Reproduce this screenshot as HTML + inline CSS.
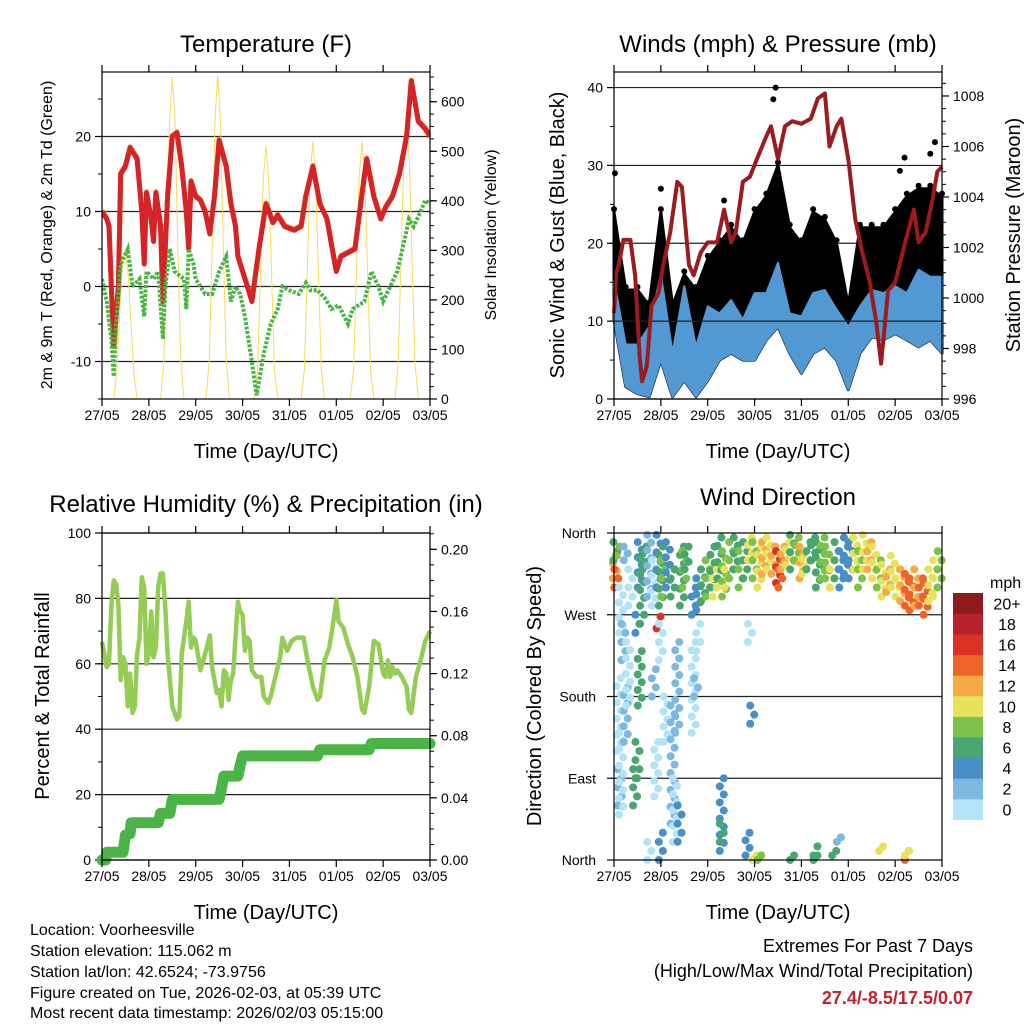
<!DOCTYPE html>
<html><head><meta charset="utf-8">
<style>
html,body{margin:0;padding:0;background:#fff;}
svg{display:block;font-family:"Liberation Sans",sans-serif;}
</style></head>
<body>
<svg id="chart" width="1024" height="1024" viewBox="0 0 1024 1024" xmlns="http://www.w3.org/2000/svg">
<rect width="1024" height="1024" fill="#fff"/>
<g id="layer"></g>
<text x="266" y="52" font-size="24" text-anchor="middle">Temperature (F)</text>
<text x="778" y="52" font-size="24" text-anchor="middle">Winds (mph) &amp; Pressure (mb)</text>
<text x="266" y="512" font-size="24" text-anchor="middle">Relative Humidity (%) &amp; Precipitation (in)</text>
<text x="778" y="505" font-size="24" text-anchor="middle">Wind Direction</text>
<text transform="translate(52,235) rotate(-90)" font-size="16" text-anchor="middle">2m &amp; 9m T (Red, Orange) &amp; 2m Td (Green)</text>
<text transform="translate(496,235) rotate(-90)" font-size="16" text-anchor="middle">Solar Insolation (Yellow)</text>
<text transform="translate(564,235) rotate(-90)" font-size="20" text-anchor="middle">Sonic Wind &amp; Gust (Blue, Black)</text>
<text transform="translate(1020,235) rotate(-90)" font-size="20" text-anchor="middle">Station Pressure (Maroon)</text>
<text transform="translate(49,696) rotate(-90)" font-size="20" text-anchor="middle">Percent &amp; Total Rainfall</text>
<text transform="translate(541,696) rotate(-90)" font-size="20" text-anchor="middle">Direction (Colored By Speed)</text>
<text x="266" y="458" font-size="20" text-anchor="middle">Time (Day/UTC)</text>
<text x="778" y="458" font-size="20" text-anchor="middle">Time (Day/UTC)</text>
<text x="266" y="919" font-size="20" text-anchor="middle">Time (Day/UTC)</text>
<text x="778" y="919" font-size="20" text-anchor="middle">Time (Day/UTC)</text>
<g font-size="16">
<text x="30" y="935">Location: Voorheesville</text>
<text x="30" y="956">Station elevation: 115.062 m</text>
<text x="30" y="977">Station lat/lon: 42.6524; -73.9756</text>
<text x="30" y="998">Figure created on Tue, 2026-02-03, at 05:39 UTC</text>
<text x="30" y="1018">Most recent data timestamp: 2026/02/03 05:15:00</text>
</g>
<g font-size="18" text-anchor="end">
<text x="973" y="952">Extremes For Past 7 Days</text>
<text x="973" y="977">(High/Low/Max Wind/Total Precipitation)</text>
<text x="973" y="1004" fill="#c8202a" font-weight="bold">27.4/-8.5/17.5/0.07</text>
</g>
<text x="990" y="588" font-size="16">mph</text>
</svg>
<script>
// ---------- DATA ----------
const dayLabels = ["27/05","28/05","29/05","30/05","31/05","01/05","02/05","03/05"];
// Temperature (F)
const tempT = [0,0.1,0.15,0.25,0.35,0.4,0.5,0.6,0.75,0.85,0.9,0.95,1.05,1.1,1.15,1.25,1.3,1.4,1.5,1.6,1.7,1.8,1.85,1.9,2.0,2.1,2.2,2.3,2.4,2.5,2.65,2.75,2.85,2.9,3.0,3.1,3.2,3.35,3.5,3.65,3.75,3.9,4.1,4.25,4.35,4.5,4.65,4.8,4.9,5.0,5.1,5.25,5.4,5.5,5.65,5.8,5.95,6.05,6.2,6.35,6.5,6.6,6.75,6.9,7.0];
const tempRed = [10,9,8,-8,0,15,16,18.5,17,10,3,12.5,9,6,12.5,8,-2,12,20,20.5,16,10,5,14,12,11.5,10,7,12,19.5,16,11,8,4,2,0,-2,5,11,8.5,9.5,8,7.5,8,12,16,11,9,5.5,2,4,4.5,5,10,17,12,9,10.5,12,15,20,27.4,22,21,20];
const dewT = [0,0.1,0.2,0.25,0.3,0.4,0.55,0.65,0.8,0.9,0.95,1.1,1.2,1.3,1.35,1.45,1.55,1.75,1.8,1.85,1.95,2.0,2.2,2.35,2.5,2.65,2.75,2.85,2.95,3.05,3.2,3.3,3.45,3.6,3.75,3.85,4.0,4.2,4.35,4.45,4.6,4.75,4.9,5.05,5.25,5.35,5.6,5.75,5.9,6.0,6.15,6.3,6.45,6.55,6.65,6.8,6.9,7.0];
const dewVals = [1,-2,-7,-12,-5,3,5,0,1,-4,2,1,2,-7,0,5,2,1,-3,5,3,1,-1,-1,2,4,-2,0,-1,-4,-10,-14.5,-9,-5,-3,0,-0.5,-1,0.5,-0.5,-0.5,-1.5,-3,-2.5,-5,-3,-2,2,0,-2,0,2,6,9,8,10,11.5,11];
const solarT = [0.25,0.32,0.38,0.44,0.5,0.56,0.62,0.68,0.75, 1.25,1.32,1.38,1.44,1.5,1.56,1.62,1.68,1.75, 2.22,2.29,2.35,2.41,2.47,2.53,2.59,2.65,2.72, 3.25,3.32,3.38,3.44,3.5,3.56,3.62,3.68,3.75, 4.25,4.32,4.38,4.44,4.5,4.56,4.62,4.68,4.75, 5.3,5.37,5.43,5.49,5.55,5.61,5.67,5.73,5.8, 6.25,6.32,6.38,6.44,6.5,6.56,6.62,6.68,6.75];
const solarVals = [0,60,180,280,300,250,150,50,0, 0,80,300,560,650,560,300,80,0, 0,80,300,560,655,560,300,80,0, 0,60,250,440,510,440,250,60,0, 0,60,250,450,520,450,250,60,0, 0,60,250,450,520,450,250,60,0, 0,70,270,480,550,480,270,70,0];
// Winds (mph) & pressure (mb)
const windT = [0,0.25,0.5,0.75,1,1.25,1.5,1.75,2,2.25,2.5,2.75,3,3.25,3.5,3.75,4,4.25,4.5,4.75,5,5.25,5.5,5.75,6,6.25,6.5,6.75,7];
const windHi = [15.3,7,7,9.3,16,5.9,14.5,6.7,11.9,11,12.7,10.2,13.6,13.6,17.5,11,10.6,13.6,14,11.5,9.3,11.9,14,13.6,14.5,13.6,16.6,15.7,15.7];
const windLo = [10.2,1.6,0.7,0.3,5,0.3,2.4,0.3,2.4,5,5.9,5,5,7.6,9.3,5.9,3.3,5.9,6.7,5,1.2,5.9,8,7.6,8.4,7.6,6.7,7.6,5.9];
const gustHi = [24,14,14,12,24,12,16,14,18,20,22,20,24,26,30,22,20,24,23,20,12,22,22,22,24,26,27,27,26];
const gustOutT = [0.02,3.4,3.45,6.1,6.2,6.75,6.85,1.0,2.35];
const gustOutV = [29,38.5,40,29.3,31,31.5,33,27,25.5];
const presT = [0,0.05,0.1,0.2,0.35,0.45,0.55,0.6,0.7,0.8,0.95,1.05,1.2,1.35,1.45,1.6,1.7,1.85,2.0,2.2,2.35,2.5,2.6,2.75,2.9,3.05,3.25,3.35,3.5,3.65,3.8,4.0,4.2,4.35,4.5,4.6,4.75,4.85,5.0,5.15,5.3,5.45,5.6,5.7,5.85,6.0,6.2,6.4,6.5,6.65,6.8,6.9,7.0];
const presVals = [999.4,1001.0,1001.3,1002.3,1002.3,1000.9,997.6,996.7,997.3,999.7,1000.2,1001.3,1002.6,1004.6,1004.4,1001.3,1000.9,1001.8,1002.2,1002.2,1003.5,1002.2,1002.6,1004.6,1004.8,1005.5,1006.4,1006.8,1005.5,1006.8,1007.0,1006.9,1007.1,1007.9,1008.1,1006.0,1006.8,1007.1,1005.5,1003.1,1001.8,1000.7,999.0,997.4,1000.3,1000.6,1002.1,1003.5,1002.2,1002.6,1003.9,1005.0,1005.2];
// Relative humidity (%)
const rhT = [0,0.05,0.1,0.15,0.2,0.25,0.3,0.35,0.4,0.45,0.5,0.55,0.6,0.65,0.7,0.75,0.8,0.85,0.9,0.95,1.0,1.05,1.1,1.15,1.2,1.25,1.3,1.35,1.4,1.5,1.55,1.6,1.65,1.7,1.8,1.85,1.9,1.95,2.0,2.1,2.2,2.3,2.35,2.45,2.5,2.55,2.6,2.65,2.7,2.75,2.8,2.85,2.9,2.95,3.0,3.05,3.1,3.15,3.2,3.3,3.4,3.45,3.55,3.6,3.7,3.8,3.85,3.95,4.05,4.15,4.3,4.4,4.5,4.6,4.65,4.75,4.85,4.95,5.0,5.05,5.15,5.25,5.35,5.45,5.55,5.6,5.7,5.8,5.9,6.0,6.05,6.1,6.15,6.2,6.25,6.3,6.4,6.5,6.55,6.6,6.7,6.8,6.9,7.0];
const rhVals = [66.7,63,59,60,78,85.5,84.5,78,55,62,60,47,57,45,47,63,68,86.5,83.5,60,63,76,62,65,83.5,87.6,87.6,77,63,47,45,43,44,63,73,79,65,68,67,58,63,68.7,59,51,52,47,58,57,49,55,57,68,79,76,75,64,68,67,58,56,56,50,48,50,56,62,68,64,67,68,68,60,53,49,50,61,65,74,79.5,73,71,66,62,56,46,45,53,67,66,57,56,61,56,59,57,58,56,53,46,45,56,61,67,70];
// Precipitation (in, cumulative)
const rainT = [0,0.08,0.1,0.45,0.5,0.6,0.62,1.2,1.25,1.45,1.5,2.5,2.55,2.6,2.9,2.95,3.0,4.6,4.65,5.7,5.75,7.0];
const rainVals = [0,0,0.005,0.005,0.016,0.017,0.024,0.024,0.03,0.03,0.039,0.039,0.046,0.054,0.054,0.061,0.067,0.067,0.071,0.071,0.075,0.075];
// Wind direction observations: [day, dirMin, dirMax, speed]
const dirObs = [
[0.02,310,335,13],[0.03,330,350,7],[0.05,300,320,15],[0.08,335,345,8],[0.15,250,300,1],[0.25,330,345,3],[0.35,280,320,1],[0.55,300,350,5],[0.6,280,340,7],[0.65,320,345,6],[0.75,290,358,3],[0.85,280,330,1],[0.95,300,358,4],[1.0,280,345,6],[1.05,290,330,9],[1.15,300,350,5],[1.25,290,320,7],[1.45,280,345,7],[1.5,300,340,9],[1.55,320,345,7],[1.7,270,300,4],[1.8,275,310,5],[1.9,285,320,7],[2.0,290,330,8],[2.1,300,345,6],[2.15,290,320,10],[2.25,310,355,6],[2.35,290,340,9],[2.4,300,330,11],[2.5,310,350,8],[2.6,320,355,7],[2.7,300,340,9],[2.8,310,350,6],[2.9,330,355,10],[3.0,310,350,9],[3.1,300,345,11],[3.2,315,350,12],[3.3,320,355,10],[3.4,315,345,13],[3.5,305,340,17],[3.55,300,330,15],[3.6,320,345,12],[3.7,325,350,10],[3.8,320,358,7],[3.9,330,355,8],[4.0,310,345,12],[4.05,315,340,10],[4.15,320,350,7],[4.25,330,355,6],[4.35,300,350,7],[4.45,310,355,8],[4.55,310,345,8],[4.65,300,330,10],[4.75,310,350,7],[4.85,300,340,4],[4.95,315,355,4],[5.05,310,350,5],[5.15,320,355,11],[5.25,300,340,8],[5.35,320,358,10],[5.45,320,350,12],[5.55,310,345,11],[5.65,300,330,9],[5.75,290,325,11],[5.85,295,320,13],[5.95,300,335,11],[6.05,290,320,10],[6.15,285,320,13],[6.25,280,315,14],[6.35,275,310,15],[6.45,280,320,12],[6.55,280,310,14],[6.65,270,305,15],[6.75,285,320,11],[6.85,290,330,10],[6.95,300,340,9],
[0.1,120,200,1],[0.12,60,100,3],[0.15,50,140,1],[0.2,220,260,2],[0.25,130,190,2],[0.3,170,240,1],[0.45,60,100,6],[0.5,90,130,7],[0.55,170,230,7],[0.5,250,270,4],[0.6,260,270,6],[0.75,0,20,1],[0.85,180,210,2],[0.9,70,130,1],[0.95,255,268,16],[1.0,0,30,4],[1.0,220,260,1],[1.1,130,180,1],[1.25,40,170,2],[1.3,20,90,1],[1.35,140,240,3],[1.4,20,60,4],[1.7,140,240,1],[1.75,180,200,2],[1.8,230,260,1],[2.3,10,90,4],[2.3,20,40,6],[2.85,5,30,5],[2.9,240,260,1],[2.95,150,170,4],[3.0,0,5,10],[3.1,0,5,8],[3.8,0,5,6],[4.3,5,15,6],[4.3,0,5,6],[4.7,5,10,6],[4.8,20,25,2],[5.7,10,15,10],[6.25,0,10,15],[6.25,5,10,10]
];
const speedLevels = ["0","2","4","6","8","10","12","14","16","18","20+"];
const speedColors = ["#b3e3f7","#7db8e2","#4a8ec6","#49a671","#7cc24a","#e6e25a","#f6a947","#ef6329","#da3227","#b8212a","#8e1a1c"];

// ---------- DRAWING ----------
const NS="http://www.w3.org/2000/svg";
const layer=document.getElementById('layer');
function el(tag,attrs,parent){const e=document.createElementNS(NS,tag);for(const k in attrs)e.setAttribute(k,attrs[k]);(parent||layer).appendChild(e);return e;}
function ln(x1,y1,x2,y2,c,w,p){return el('line',{x1,y1,x2,y2,stroke:c||'#000','stroke-width':w||1},p);}
function tx(x,y,s,anchor,p,size){const t=el('text',{x,y,'font-size':size||14,'text-anchor':anchor||'middle'},p);t.textContent=s;return t;}

function panel(name,x0,x1,y0,y1){
  const g=el('g',{});
  
  
  const sx=d=>x0+(x1-x0)*d/7;
  return {g,x0,x1,y0,y1,sx};
}
function frame(P){
  el('rect',{x:P.x0,y:P.y0,width:P.x1-P.x0,height:P.y1-P.y0,fill:'none',stroke:'#000','stroke-width':1.2},P.g);
  const xa=el('g',{},P.g);
  
  
  for(let i=0;i<8;i++){const x=P.sx(i);ln(x,P.y1,x,P.y1+7,'#000',1.2,xa);ln(x,P.y0,x,P.y0-7,'#000',1.2,xa);
    const t=tx(x,P.y1+21,dayLabels[i],'middle',xa,14);
    
    }
}
function yTicks(P,lo,hi,major,minor,fmt,side,grid,labels){
  const sy=v=>P.y1-(v-lo)/(hi-lo)*(P.y1-P.y0);
  const ga=el('g',{},P.g);
  
  
  const xe=side==='left'?P.x0:P.x1, dir=side==='left'?-1:1;
  for(let v=lo;v<=hi+1e-9;v+=minor){const y=sy(v);if(y<P.y0-0.5)continue;ln(xe,y,xe+dir*4,y,'#000',1,ga);}
  for(let i=0;i<labels.length;i++){const v=labels[i];const y=sy(v);
    ln(xe,y,xe+dir*7,y,'#000',1.2,ga);
    if(grid)ln(P.x0,y,P.x1,y,'#222',1.2,P.g);
    const t=tx(xe+dir*11,y+5,fmt(v),side==='left'?'end':'start',ga,14);
    
    }
  return sy;
}
function pathFrom(xs,ys,sx,sy){return xs.map((t,i)=>(i?'L':'M')+sx(t).toFixed(1)+','+sy(ys[i]).toFixed(1)).join('');}

// Temperature panel
{
const P=panel('temperature-panel',102,430,72,399);
const sy=yTicks(P,-15,28.6,10,5,v=>String(v),'left',true,[-10,0,10,20]);
const syS=yTicks(P,0,660,100,25,v=>String(v),'right',false,[0,100,200,300,400,500,600]);
el('clipPath',{id:'ct'},P.g).appendChild(el('rect',{x:102,y:72,width:328,height:327},P.g));
const cg=el('g',{'clip-path':'url(#ct)'},P.g);
const s=el('path',{d:pathFrom(solarT,solarVals,P.sx,syS),fill:'none',stroke:'#f7dc5a','stroke-width':1},cg);


const o=el('path',{d:pathFrom(tempT,tempRed,P.sx,v=>sy(v)-1),fill:'none',stroke:'#f58a3a','stroke-width':5,'stroke-linejoin':'round'},cg);


const r=el('path',{d:pathFrom(tempT,tempRed,P.sx,sy),fill:'none',stroke:'#d42428','stroke-width':5,'stroke-linejoin':'round'},cg);


const g=el('path',{d:pathFrom(dewT,dewVals,P.sx,sy),fill:'none',stroke:'#4cb447','stroke-width':4,'stroke-dasharray':'3 1.5'},cg);


frame(P);
}
// Winds panel
{
const P=panel('winds-panel',614,942,72,399);
const sy=yTicks(P,0,42,10,5,v=>String(v),'left',true,[0,10,20,30,40]);
const syP=yTicks(P,996,1008.95,2,0.5,v=>String(v),'right',false,[996,998,1000,1002,1004,1006,1008]);
const cg=el('g',{},P.g);
let dG=windT.map((t,i)=>(i?'L':'M')+P.sx(t)+','+sy(gustHi[i])).join('')+windT.map((t,i)=>[t,i]).reverse().map(([t,i])=>'L'+P.sx(t)+','+sy(windLo[i])).join('')+'Z';
const gb=el('path',{d:dG,fill:'#000',stroke:'#000','stroke-width':3,'stroke-linejoin':'round'},cg);


windT.forEach((t,i)=>{const c=el('circle',{cx:P.sx(t),cy:sy(gustHi[i])-3,r:3,fill:'#000'},cg);

});
gustOutT.forEach((t,i)=>{const c=el('circle',{cx:P.sx(t),cy:sy(gustOutV[i]),r:3,fill:'#000'},cg);

});
let dW=windT.map((t,i)=>(i?'L':'M')+P.sx(t)+','+sy(windHi[i])).join('')+windT.map((t,i)=>[t,i]).reverse().map(([t,i])=>'L'+P.sx(t)+','+sy(windLo[i])).join('')+'Z';
const wb=el('path',{d:dW,fill:'#5298d2',stroke:'#5298d2','stroke-width':2,'stroke-linejoin':'round'},cg);


ln(614,sy(10),942,sy(10),'#222',1.2,P.g);
const pl=el('path',{d:pathFrom(presT,presVals,P.sx,syP),fill:'none',stroke:'#9b1b1e','stroke-width':4,'stroke-linejoin':'round'},P.g);


frame(P);
}
// RH panel
{
const P=panel('humidity-panel',102,430,533,860);
const sy=yTicks(P,0,100,20,10,v=>String(v),'left',true,[0,20,40,60,80,100]);
const syR=yTicks(P,0,0.2105,0.04,0.01,v=>v.toFixed(2),'right',false,[0,0.04,0.08,0.12,0.16,0.2]);
const rl=el('path',{d:pathFrom(rainT,rainVals,P.sx,syR),fill:'none',stroke:'#4bb446','stroke-width':11,'stroke-linecap':'round','stroke-linejoin':'round'},P.g);


const hl=el('path',{d:pathFrom(rhT,rhVals,P.sx,sy),fill:'none',stroke:'#95cc55','stroke-width':4.5,'stroke-linejoin':'round'},P.g);


frame(P);
}
// Wind direction panel
{
const P=panel('wind-direction-panel',614,942,533,860);
const sy=v=>P.y1-v/360*(P.y1-P.y0);
const ga=el('g',{},P.g);


const dirNames=["North","East","South","West","North"];
dirNames.forEach((n,i)=>{const y=sy(i*90);ln(P.x0-7,y,P.x0,y,'#000',1.2,ga);
  if(i>0&&i<4)ln(P.x0,y,P.x1,y,'#222',1.2,P.g);
  const t=tx(P.x0-18,y+5,n,'end',ga,14);
  
  });
const dg=el('g',{},P.g);


dirObs.forEach(o=>{const [t,a,b,s]=o;const ci=Math.min(10,Math.floor(s/2));
  const n=Math.max(1,Math.round((b-a)/9));
  for(let k=0;k<=n;k++){
    const d=a+(b-a)*k/n;
    const c=el('circle',{cx:P.sx(t)+(k%2?2:-2),cy:sy(d),r:4,fill:speedColors[ci]},dg);
    
    
    if(b===a)break;}
});
frame(P);
const cb=el('g',{});


const bh=20.6;
speedLevels.forEach((lab,i)=>{const y=593+(10-i)*bh;
  const r=el('rect',{x:953,y:y,width:30,height:bh+0.3,fill:speedColors[i]},cb);
  
  
  const t=tx(1007,y+bh/2+6,lab,'middle',cb,16);
  
  });
}
</script>
</body></html>
